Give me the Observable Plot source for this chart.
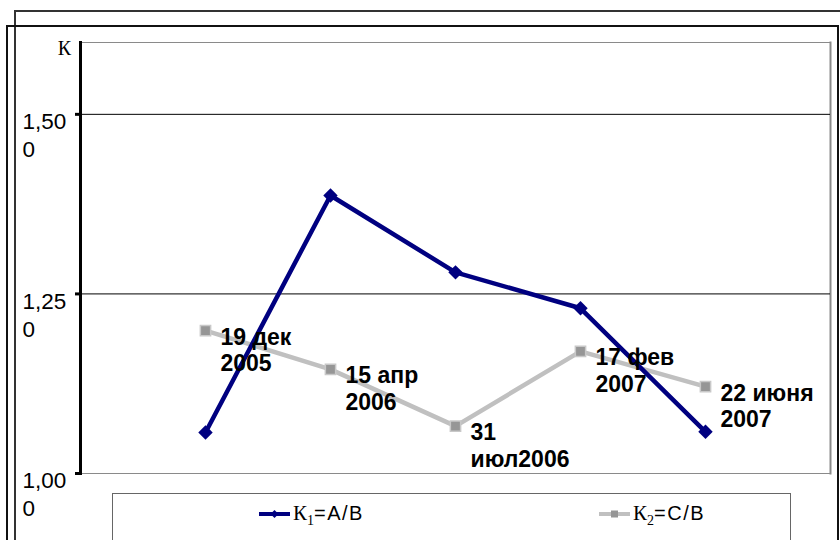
<!DOCTYPE html>
<html>
<head>
<meta charset="utf-8">
<script src="https://cdn.jsdelivr.net/npm/d3@7"></script>
<script src="https://cdn.jsdelivr.net/npm/@observablehq/plot@0.6"></script>
<style>
  html, body { margin: 0; padding: 0; background: #fff; }
  #wrap { position: relative; width: 840px; height: 540px; overflow: hidden; background: #fff; }
  #wrap svg.plot { position: absolute; left: 0; top: 0; }
  .box { position: absolute; box-sizing: border-box; pointer-events: none; }
  #outer1 { left: 14px; top: 10px; width: 900px; height: 600px; border-top: 2px solid #333; border-left: 2px solid #333; }
  #outer2 { left: 6px; top: 25px; width: 833px; height: 600px; border: 2px solid #111; }
  #legend { position: absolute; left: 112px; top: 493px; width: 679px; height: 80px; box-sizing: border-box;
            border: 1px solid #666; background: #fff; }
  .item { position: absolute; top: 7px; display: flex; align-items: center; white-space: nowrap; }
  .item svg { display: block; }
  .k { font-family: "Liberation Serif", "Times New Roman", serif; font-size: 21px; }
  .k sub { font-size: 14px; vertical-align: -5px; line-height: 0; }
  .f { font-family: Arial, "Liberation Sans", sans-serif; font-size: 20px; letter-spacing: 1.5px; }
</style>
</head>
<body>
<div id="wrap">
  <div class="box" id="outer1"></div>
  <div class="box" id="outer2"></div>
  <div id="legend"></div>
</div>
<script>
// Measurement dates (point labels)
const categories = ["19 дек\n2005", "15 апр\n2006", "31\nиюл2006", "17 фев\n2007", "22 июня\n2007"];
// Coefficient values per date
const k1Values = [1.057, 1.387, 1.280, 1.230, 1.058];
const k2Values = [1.199, 1.145, 1.066, 1.170, 1.121];
// Series names and styles
const seriesLetter = ["К", "К"];
const seriesIndex = ["1", "2"];
const seriesFormula = ["=A/B", "=C/B"];
const seriesColors = ["#000080", "#C0C0C0"];
const markerFill = "#969696";
// Axis
const yDomain = [1, 1.6];
const yTicks = [1, 1.25, 1.5];
const gridValues = [1.25, 1.5];
const yAxisLabel = "К";

const k1Rows = categories.map((c, i) => ({date: c, value: k1Values[i]}));
const k2Rows = categories.map((c, i) => ({date: c, value: k2Values[i]}));

// "1,500" wraps in the narrow label column as "1,50" / "0"
const tickText = d => {
  const s = d.toFixed(3).replace(".", ",");
  return s.slice(0, -1) + "\n" + s.slice(-1);
};

const sans = "Arial, 'Liberation Sans', sans-serif";

const chart = Plot.plot({
  width: 840,
  height: 540,
  marginLeft: 80,
  marginRight: 10,
  marginTop: 42,
  marginBottom: 67,
  style: {background: "transparent", overflow: "visible"},
  x: {type: "point", domain: categories, padding: 1, axis: null},
  y: {domain: yDomain, axis: null},
  marks: [
    Plot.frame({stroke: "#8a8a8a", strokeWidth: 1}),
    Plot.frame({anchor: "right", stroke: "#8a8a8a", strokeWidth: 2}),
    Plot.ruleY(gridValues, {stroke: "#000", strokeWidth: 1}),
    Plot.frame({anchor: "left", stroke: "#000", strokeWidth: 3}),
    Plot.axisY({ticks: yTicks, tickSize: 5, strokeWidth: 3, stroke: "#000", tickFormat: () => "", label: null}),
    Plot.text(yTicks, {
      y: d => d, text: tickText, frameAnchor: "left", textAnchor: "start",
      dx: -58, dy: -5, lineAnchor: "top", lineHeight: 1.24,
      fontSize: 22.5, fontFamily: sans, fill: "#000"
    }),
    Plot.text([yAxisLabel], {
      text: d => d, frameAnchor: "top-left", textAnchor: "middle",
      dx: -16, dy: -2, lineAnchor: "top",
      fontSize: 20, fontFamily: "'Liberation Serif', 'Times New Roman', serif", fill: "#000"
    }),
    // К2 series
    Plot.line(k2Rows, {x: "date", y: "value", stroke: seriesColors[1], strokeWidth: 4.5}),
    Plot.dot(k2Rows, {x: "date", y: "value", symbol: "square", r: 5.8, fill: markerFill, stroke: "#c8c8c8", strokeWidth: 1.5}),
    // К1 series
    Plot.line(k1Rows, {x: "date", y: "value", stroke: seriesColors[0], strokeWidth: 4.5}),
    Plot.dot(k1Rows, {x: "date", y: "value", symbol: "diamond2", r: 6.5, fill: seriesColors[0]}),
    // Date labels beside the К2 points
    Plot.text(k2Rows, {
      x: "date", y: "value", text: "date", textAnchor: "start", lineAnchor: "top",
      dx: 15, dy: -5, lineHeight: 1.16,
      fontSize: 23, fontWeight: "bold", fontFamily: sans, fill: "#000"
    })
  ]
});
chart.classList.add("plot");
document.getElementById("wrap").prepend(chart);

// Legend
const legend = d3.select("#legend");
const itemLeft = [146, 486];
seriesLetter.forEach((letter, i) => {
  const item = legend.append("div").attr("class", "item").style("left", itemLeft[i] + "px");
  const sw = item.append("svg").attr("width", 34).attr("height", 16);
  sw.append("line").attr("x1", 0).attr("x2", 31).attr("y1", 8).attr("y2", 8)
    .attr("stroke", seriesColors[i]).attr("stroke-width", 4);
  if (i === 0) {
    sw.append("path").attr("d", d3.symbol(d3.symbolDiamond2, 40)()).attr("transform", "translate(15.5,8)")
      .attr("fill", seriesColors[0]);
  } else {
    sw.append("rect").attr("x", 12).attr("y", 4.5).attr("width", 7).attr("height", 7)
      .attr("fill", markerFill);
  }
  const label = item.append("span");
  label.append("span").attr("class", "k").html(letter + "<sub>" + seriesIndex[i] + "</sub>");
  label.append("span").attr("class", "f").text(seriesFormula[i]);
});
</script>
</body>
</html>
